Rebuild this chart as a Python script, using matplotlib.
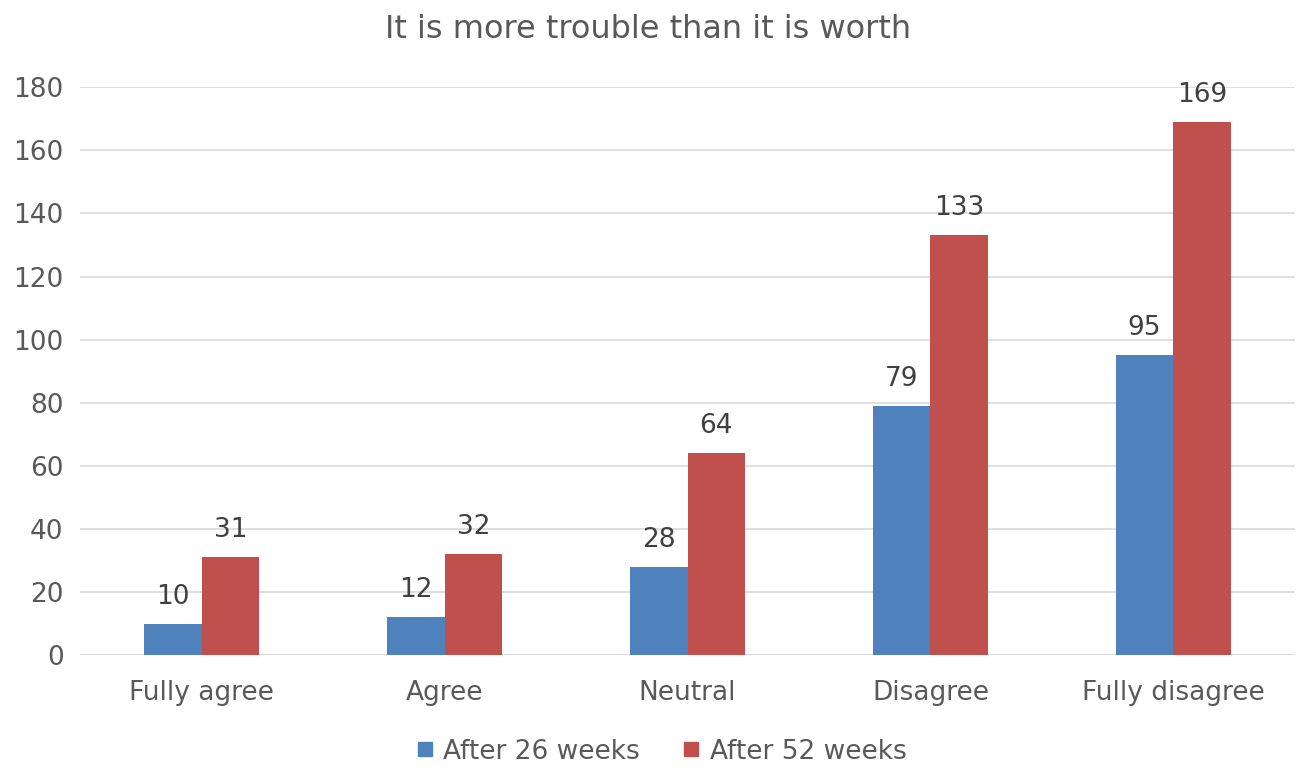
import numpy as np
import matplotlib
matplotlib.use("Agg")
import matplotlib.pyplot as plt

categories = ["Fully agree", "Agree", "Neutral", "Disagree", "Fully disagree"]
after_26 = [10, 12, 28, 79, 95]
after_52 = [31, 32, 64, 133, 169]
series_names = ["After 26 weeks", "After 52 weeks"]

blue = "#4F81BD"
red = "#C0504D"
grey = "#595959"

plt.rcParams["font.family"] = ["DejaVu Sans"]

fig = plt.figure(figsize=(12.96, 7.71), dpi=100)
ax = fig.add_axes([0.062, 0.150, 0.937, 0.737])

x = np.arange(len(categories))
w = 0.237
b1 = ax.bar(x - w / 2, after_26, w, color=blue, label=series_names[0], zorder=3)
b2 = ax.bar(x + w / 2, after_52, w, color=red, label=series_names[1], zorder=3)

for bars, vals in ((b1, after_26), (b2, after_52)):
    for bar, v in zip(bars, vals):
        ax.text(bar.get_x() + bar.get_width() / 2, v + 4.5, str(v),
                ha="center", va="bottom", fontsize=19, color="#404040")

ax.set_xlim(-0.5, len(categories) - 0.5)
ax.set_ylim(0, 180)
ax.set_yticks(range(0, 181, 20))
ax.set_xticks(x)
ax.set_xticklabels(categories)
ax.tick_params(axis="both", length=0, labelsize=19, labelcolor=grey)
ax.tick_params(axis="x", pad=18)
ax.tick_params(axis="y", pad=12)
ax.yaxis.grid(True, color="#D9D9D9", linewidth=1.2, zorder=0)
for s in ax.spines.values():
    s.set_visible(False)
ax.axhline(0, color="#D9D9D9", linewidth=1.2, zorder=2)

fig.suptitle("It is more trouble than it is worth", y=0.982, fontsize=23,
             color=grey)

handles = [plt.Line2D([], [], marker="s", linestyle="", markersize=10, color=c)
           for c in (blue, red)]
fig.legend(handles, series_names, loc="center", bbox_to_anchor=(0.51, 0.025),
           ncol=2, frameon=False, fontsize=19, labelcolor=grey,
           handlelength=0.7, handletextpad=0.35, columnspacing=1.6)

fig.savefig("out.png", dpi=100)
